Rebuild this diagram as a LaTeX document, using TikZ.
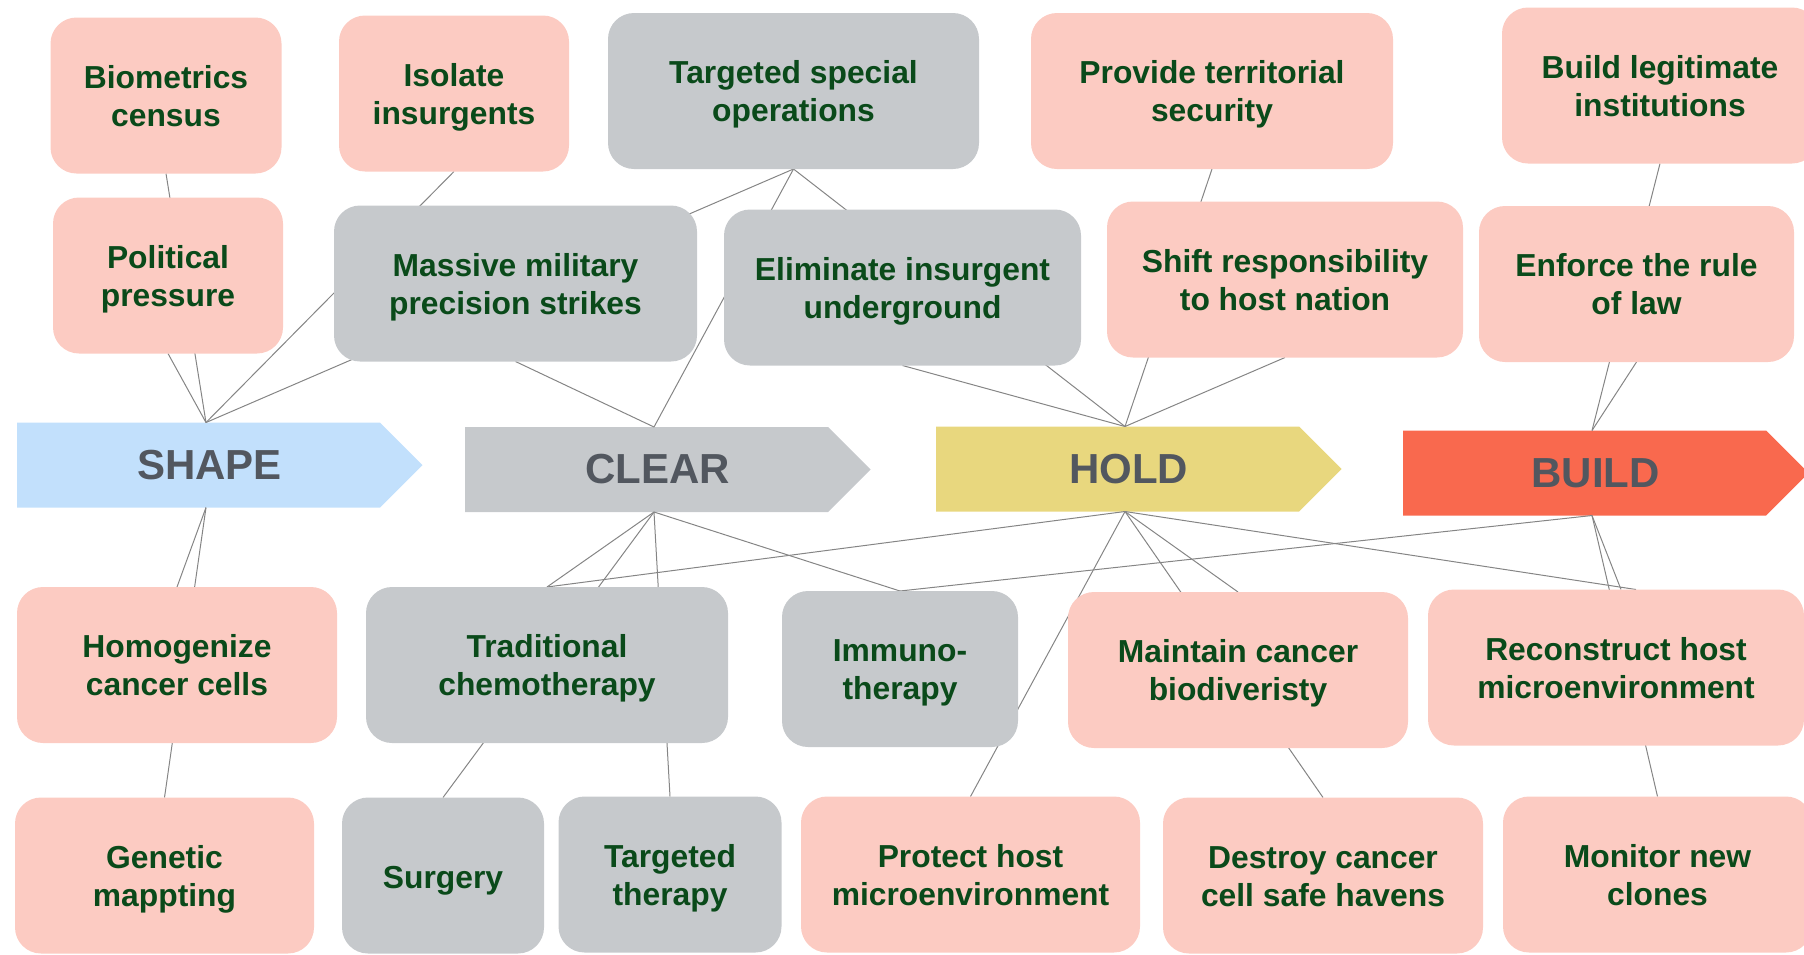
\documentclass[tikz,border=0pt]{standalone}
\usepackage{fontspec}
\setmainfont{Liberation Sans}
\usepackage{tikz}
\usetikzlibrary{backgrounds}

\definecolor{pinkbox}{HTML}{FCCBC2}
\definecolor{graybox}{HTML}{C6C9CC}
\definecolor{shapeblue}{HTML}{C2E0FC}
\definecolor{holdyellow}{HTML}{E8D77E}
\definecolor{buildred}{HTML}{F9694E}
\definecolor{taskgreen}{HTML}{0A4A1A}
\definecolor{phasetext}{HTML}{52575F}
\definecolor{linkgray}{HTML}{858585}

\begin{document}
\begin{tikzpicture}[
    x=1pt, y=-1pt,
    task/.style={rounded corners=26pt, fill=pinkbox, minimum height=156pt, inner sep=2pt,
                 outer sep=0pt, align=center, text=taskgreen, text height=61pt, text depth=0pt,
                 font=\fontsize{31.8}{38}\selectfont\bfseries},
    op/.style={task, fill=graybox},
    phase/.style={anchor=west, minimum width=378pt, minimum height=85pt, inner sep=0pt,
                  outer sep=0pt, text=phasetext, font=\fontsize{42}{50}\selectfont\bfseries,
                  execute at begin node={\hspace*{7pt}}},
    link/.style={draw=linkgray, line width=1pt}
]
\useasboundingbox (0,0) rectangle (1804,954);

% phases
\node[phase] (shape) at (17,465) {SHAPE};
\node[phase] (clear) at (465,469.5) {CLEAR};
\node[phase] (hold) at (936,469) {HOLD};
\node[phase] (build) at (1403,473) {BUILD};

% tasks above the phases
\node[task, minimum width=231pt] (bio) at (166,95.5) {Biometrics\\census};
\node[task, minimum width=230pt] (iso) at (454,93.5) {Isolate\\insurgents};
\node[op, minimum width=371pt] (tso) at (793.5,91) {Targeted special\\operations};
\node[task, minimum width=362pt] (pts) at (1212,91) {Provide territorial\\security};
\node[task, minimum width=316pt] (bli) at (1660,85.5) {Build legitimate\\institutions};

\node[task, minimum width=230pt] (pp) at (168,275.5) {Political\\pressure};
\node[op, minimum width=363pt] (mms) at (515.5,283.5) {Massive military\\precision strikes};
\node[op, minimum width=357pt] (eiu) at (902.5,287.5) {Eliminate insurgent\\underground};
\node[task, minimum width=356pt] (srh) at (1285,279.5) {Shift responsibility\\to host nation};
\node[task, minimum width=315pt] (erl) at (1636.5,284) {Enforce the rule\\of law};

% tasks below the phases
\node[task, minimum width=320pt] (hcc) at (177,665) {Homogenize\\cancer cells};
\node[op, minimum width=362pt] (tch) at (547,665) {Traditional\\chemotherapy};
\node[op, minimum width=236pt] (imm) at (900,669) {Immuno-\\therapy};
\node[task, minimum width=340pt] (mcb) at (1238,670) {Maintain cancer\\biodiveristy};
\node[task, minimum width=376pt] (rhm) at (1616,667.5) {Reconstruct host\\microenvironment};

\node[task, minimum width=299pt] (gen) at (164.5,875.5) {Genetic\\mappting};
\node[op, minimum width=202pt, text height=25pt] (sur) at (443,875.5) {Surgery};
\node[op, minimum width=223pt] (tth) at (670,874.5) {Targeted\\therapy};
\node[task, minimum width=339pt] (phm) at (970.5,874.5) {Protect host\\microenvironment};
\node[task, minimum width=320pt] (dcs) at (1323,875.5) {Destroy cancer\\cell safe havens};
\node[task, minimum width=309pt] (mnc) at (1657.5,874.5) {Monitor new\\clones};

\begin{scope}[on background layer]
% arrow bodies
\fill[shapeblue] (shape.south west) -- (shape.north west) -- ([xshift=-15pt]shape.north east)
    -- ([xshift=27.5pt]shape.east) -- ([xshift=-15pt]shape.south east) -- cycle;
\fill[graybox] (clear.south west) -- (clear.north west) -- ([xshift=-15pt]clear.north east)
    -- ([xshift=27.5pt]clear.east) -- ([xshift=-15pt]clear.south east) -- cycle;
\fill[holdyellow] (hold.south west) -- (hold.north west) -- ([xshift=-15pt]hold.north east)
    -- ([xshift=27.5pt]hold.east) -- ([xshift=-15pt]hold.south east) -- cycle;
\fill[buildred] (build.south west) -- (build.north west) -- ([xshift=-15pt]build.north east)
    -- ([xshift=27.5pt]build.east) -- ([xshift=-15pt]build.south east) -- cycle;

% links, behind the boxes
\draw[link] (bio.south) -- (shape.north);
\draw[link] (pp.south) -- (shape.north);
\draw[link] (iso.south) -- (shape.north);
\draw[link] (tso.south) -- (shape.north);
\draw[link] (mms.south) -- (clear.north);
\draw[link] (tso.south) -- (clear.north);
\draw[link] (tso.south) -- (hold.north);
\draw[link] (eiu.south) -- (hold.north);
\draw[link] (pts.south) -- (hold.north);
\draw[link] (srh.south) -- (hold.north);
\draw[link] (bli.south) -- (build.north);
\draw[link] (erl.south) -- (build.north);

\draw[link] (hcc.north) -- (shape.south);
\draw[link] (gen.north) -- (shape.south);
\draw[link] (tch.north) -- (clear.south);
\draw[link] (sur.north) -- (clear.south);
\draw[link] (tth.north) -- (clear.south);
\draw[link] (imm.north) -- (clear.south);
\draw[link] (tch.north) -- (hold.south);
\draw[link] (phm.north) -- (hold.south);
\draw[link] (mcb.north) -- (hold.south);
\draw[link] (dcs.north) -- (hold.south);
\draw[link] ([xshift=20pt]rhm.north) -- (hold.south);
\draw[link] (imm.north) -- (build.south);
\draw[link] ([xshift=5pt]rhm.north) -- (build.south);
\draw[link] (mnc.north) -- (build.south);
\end{scope}
\end{tikzpicture}
\end{document}
